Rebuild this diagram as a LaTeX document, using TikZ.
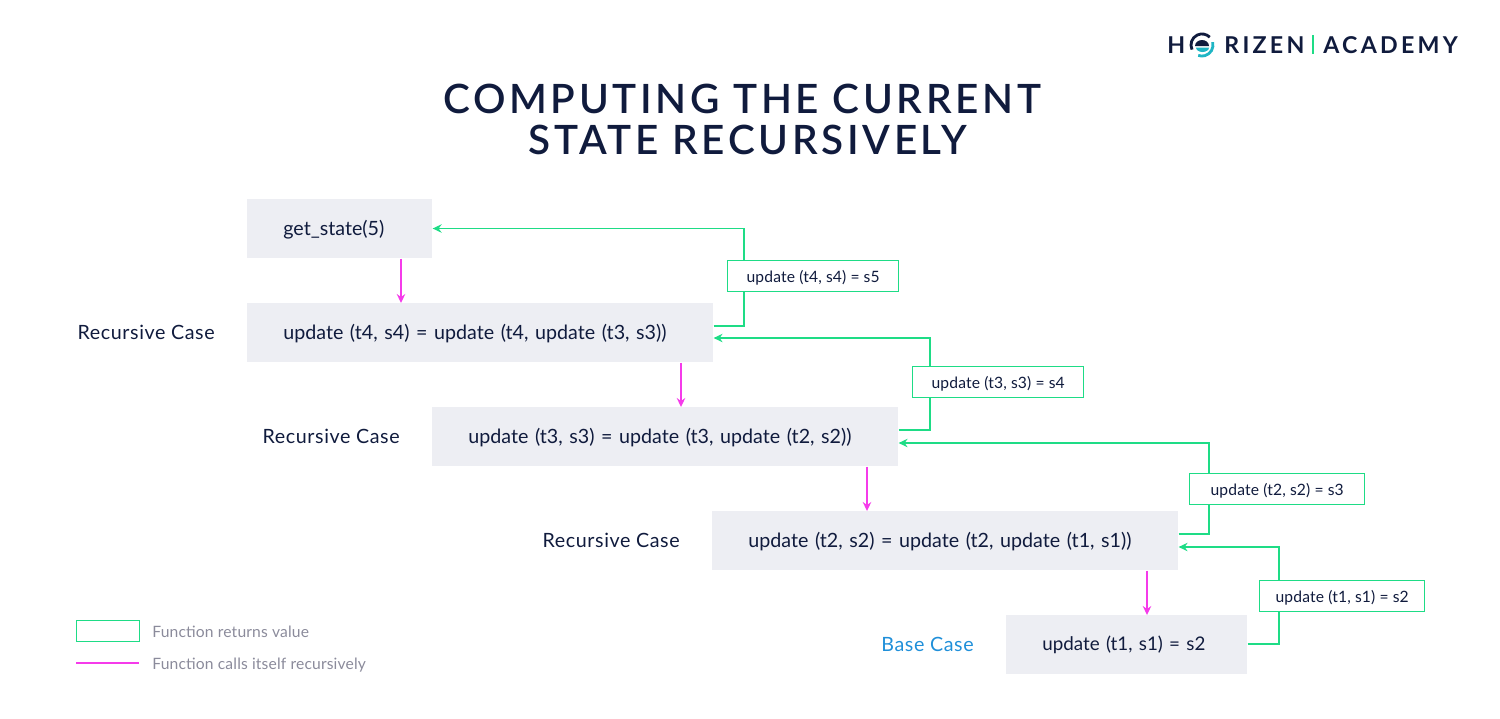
\documentclass[tikz,border=0pt]{standalone}
\usepackage{fontspec}
\usepackage{xcolor}
\setmainfont{Lato}
\newfontfamily\titlefont[LetterSpace=9]{Lato Semibold}
\newfontfamily\logofont[LetterSpace=14]{Lato}
\newfontfamily\casefont[LetterSpace=3]{Lato}
\newfontfamily\smallfont[LetterSpace=1]{Lato}
\usetikzlibrary{arrows.meta,positioning,calc}
\definecolor{navy}{HTML}{101B3D}
\definecolor{boxgray}{HTML}{EDEEF3}
\definecolor{retgreen}{HTML}{1EDC86}
\definecolor{callpink}{HTML}{F53BEA}
\definecolor{legendgray}{HTML}{8B8B9B}
\definecolor{basecolor}{HTML}{1F8FD9}
\definecolor{logoteal}{HTML}{1FB5C4}
\tikzset{
  diagtip/.tip={Stealth[length=1.8mm,width=1.7mm,inset=0.6mm]},
  diagbox/.style={fill=boxgray, anchor=north west, align=left, inner ysep=0pt, inner xsep=0.72cm,
    minimum height=1.18cm, text depth=1.6pt, font=\fontsize{11.2}{13}\selectfont, text=navy},
  caselabel/.style={inner sep=0pt, left=0.64cm of #1, font=\casefont\fontsize{11.2}{13}\selectfont, text=navy},
  retlabel/.style={draw=retgreen, line width=0.75pt, fill=white, anchor=north west, inner sep=0pt,
    minimum height=0.62cm, text depth=0pt, font=\smallfont\fontsize{8.9}{10}\selectfont, text=navy},
  retarr/.style={draw=retgreen, line width=0.75pt},
  callarr/.style={-diagtip, draw=callpink, line width=0.75pt},
  legendtext/.style={anchor=west, inner sep=0pt, font=\smallfont\fontsize{8.9}{11}\selectfont, text=legendgray},
  logotext/.style={anchor=base west, inner sep=0pt, font=\logofont\bfseries\fontsize{13.2}{14}\selectfont, text=navy},
}
\begin{document}
\begin{tikzpicture}[x=0.02cm, y=-0.02cm]
  \useasboundingbox (0,0) rectangle (1500,718);
  % title and logo
  \node[align=center, inner sep=0pt, text=navy, font=\titlefont\fontsize{23}{23.4}\selectfont] (title) at (742,119.5)
    {COMPUTING THE CURRENT\\\hspace*{0.24cm}STATE RECURSIVELY};
  \node[logotext] (logoh) at (1167,53) {H};
  \node[logotext] (logor) at (1224,53) {RIZEN};
  \node[logotext] (logoa) at (1323,53) {ACADEMY};
  \coordinate (logoc) at (1202,45);
  \draw[navy, line width=1.6pt] ($(logoc)+(-10,4.6)$) arc[start angle=205, end angle=45, radius=0.22cm];
  \draw[logoteal, line width=1.6pt] ($(logoc)+(10.6,-2.8)$) arc[start angle=15, end angle=-110, radius=0.22cm];
  \fill[navy] ($(logoc)+(-7,1)$) arc[start angle=180, end angle=0, x radius=0.14cm, y radius=0.12cm] -- cycle;
  \fill[logoteal] ($(logoc)+(-6,2.5)$) arc[start angle=180, end angle=360, x radius=0.13cm, y radius=0.09cm] -- cycle;
  \draw[retgreen, line width=0.6pt] (1313,35) -- (1313,54);
  % boxes
  \node[diagbox, text width=2.26cm] (G) at (247,199) {get\_state(5)};
  \node[diagbox, text width=7.88cm] (U4) at (247,303) {update (t4, s4) = update (t4, update (t3, s3))};
  \node[diagbox, text width=7.88cm] (U3) at (432,407) {update (t3, s3) = update (t3, update (t2, s2))};
  \node[diagbox, text width=7.88cm] (U2) at (712,511) {update (t2, s2) = update (t2, update (t1, s1))};
  \node[diagbox, text width=3.38cm, font=\fontsize{10.7}{13}\selectfont] (U1) at (1006,615) {update (t1, s1) = s2};
  \node[caselabel=U4] (C4) {Recursive Case};
  \node[caselabel=U3] (C3) {Recursive Case};
  \node[caselabel=U2] (C2) {Recursive Case};
  \node[caselabel=U1, text=basecolor] (C1) {Base Case};
  % return labels
  \node[retlabel, minimum width=3.42cm] (L4) at (727,260) {update (t4, s4) = s5};
  \node[retlabel, minimum width=3.42cm] (L3) at (912,366) {update (t3, s3) = s4};
  \node[retlabel, minimum width=3.5cm] (L2) at (1189,473) {update (t2, s2) = s3};
  \node[retlabel, minimum width=3.3cm] (L1) at (1259,580) {update (t1, s1) = s2};
  % returns: from box, bend, through label, back to box above
  \foreach \f/\l/\t/\bx/\fy/\ty in {U4/L4/G/744/326/228.5,U3/L3/U4/930/430/338,U2/L2/U3/1209/534/443,U1/L1/U2/1279/644/547} {
    \coordinate (bend) at (\bx,\fy);
    \coordinate (top) at (\bx,\ty);
    \draw[retarr] (\f.east |- bend) -- (bend) -- (\l.south -| bend);
    \draw[retarr, -diagtip] (\l.north -| bend) -- (top) -- (\t.east |- top);
  }
  % calls
  \foreach \f/\t/\x in {G/U4/401,U4/U3/681,U3/U2/867,U2/U1/1147} {
    \coordinate (callx) at (\x,0);
    \draw[callarr] (\f.south -| callx) -- (\t.north -| callx);
  }
  % legend
  \node[draw=retgreen, line width=0.75pt, minimum width=1.26cm, minimum height=0.42cm, inner sep=0pt, anchor=north west] (legbox) at (76,619.5) {};
  \coordinate (legl) at (76,663);
  \coordinate (legr) at (139,663);
  \draw[draw=callpink, line width=0.75pt] (legl) -- (legr);
  \node[legendtext] (legt1) at (152,632) {Function returns value};
  \node[legendtext] (legt2) at (152,665.5) {Function calls itself recursively};
\end{tikzpicture}
\end{document}
